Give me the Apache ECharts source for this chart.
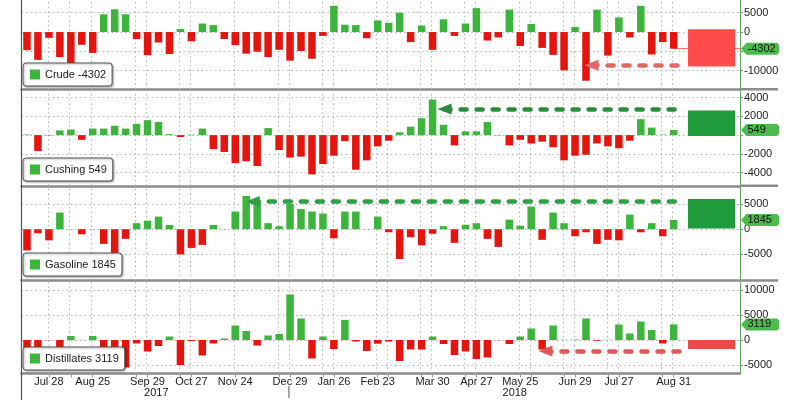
<!DOCTYPE html>
<html><head><meta charset="utf-8">
<script src="https://cdn.jsdelivr.net/npm/echarts@6/dist/echarts.min.js"></script>
<style>html,body{margin:0;padding:0;background:#fff}#c{width:800px;height:400px}</style>
</head><body><div id="c"></div>
<script>
// ---- data ----
const weeks = ['Jul 14','Jul 21','Jul 28','Aug 4','Aug 11','Aug 18','Aug 25','Sep 1','Sep 8','Sep 15','Sep 22','Sep 29',
  'Oct 6','Oct 13','Oct 20','Oct 27','Nov 3','Nov 10','Nov 17','Nov 24','Dec 1','Dec 8','Dec 15','Dec 22','Dec 29',
  'Jan 5','Jan 12','Jan 19','Jan 26','Feb 2','Feb 9','Feb 16','Feb 23','Mar 2','Mar 9','Mar 16','Mar 23','Mar 30',
  'Apr 6','Apr 13','Apr 20','Apr 27','May 4','May 11','May 18','May 25','Jun 1','Jun 8','Jun 15','Jun 22','Jun 29',
  'Jul 6','Jul 13','Jul 20','Jul 27','Aug 3','Aug 10','Aug 17','Aug 24','Aug 31'];

const crude = [-4700,-7200,-1500,-6500,-8400,-3300,-5400,4600,5900,4600,-1800,-6000,-2700,-5700,800,-2400,2200,1800,
  -1800,-3400,-5600,-5100,-6500,-4600,-7400,-4900,-6900,-1000,6800,1900,1800,-1600,3000,2400,5000,-2600,1700,-4600,
  3300,-1000,2200,6200,-2200,-1400,5800,-3600,2100,-4100,-5900,-9900,1300,-12600,5800,-6100,3800,-1400,6800,-5800,
  -2600,-4302];
const cushing = [60,-1700,-30,500,600,-500,700,700,1000,700,1200,1600,1400,100,-200,50,700,-1500,-1800,-3000,-2800,
  -3300,750,-1600,-2400,-2300,-4200,-3100,-2200,-650,-3700,-2700,-1200,-600,300,900,1800,3800,1100,-1100,400,400,
  1400,-30,-1100,-500,-900,-700,-1300,-2700,-2200,-2100,-900,-1200,-1400,-600,1700,800,50,549];
const gasoline = [-4200,-800,-2200,3300,50,-1000,30,-2900,-4800,-1900,1200,1700,2500,850,-5000,-3700,-3100,850,50,
  3500,6600,5700,1200,600,5000,4000,3500,3100,-1800,3500,3500,50,2500,-600,-5900,-1600,-3200,-900,600,-2700,900,1200,
  -1900,-3500,1900,700,4500,-2100,3300,1200,-1400,-600,-2900,-2100,-2200,2900,-600,1200,-1400,1845];
const distillates = [-2500,-2800,-50,-1800,800,30,800,-2500,-3500,-5500,-700,-2300,-1200,700,-5000,-200,-3100,-700,
  300,2900,1800,-1100,900,1200,9100,4300,-3700,700,-1800,4000,-300,-2200,-750,-300,-4200,-1900,-1900,700,-800,-3000,
  -2300,-3800,-3500,-50,-800,700,2300,-1900,2900,50,80,4300,-150,50,3100,1300,3700,2000,-700,3119];

const xTickLabels = ['Jul 28','Aug 25','Sep 29','Oct 27','Nov 24','Dec 29','Jan 26','Feb 23','Mar 30','Apr 27','May 25','Jun 29','Jul 27','Aug 31'];
const xGridWeeks = ['Jul 28','Aug 11','Aug 25','Sep 22','Sep 29','Oct 20','Oct 27','Nov 24','Dec 22','Dec 29','Jan 19','Jan 26',
  'Feb 23','Mar 2','Mar 23','Mar 30','Apr 20','Apr 27','May 25','Jun 1','Jun 22','Jun 29','Jul 20','Jul 27','Aug 24','Aug 31'];
const yearLabels = ['2017','2018'];
const yearPos = [11.8, 44.5];
const yearBreakPos = 23.9;

const crudeTicks = [5000,0,-5000,-10000];
const crudeTickLabels = [5000,0,-10000];
const cushingTicks = [4000,2000,0,-2000,-4000];
const cushingTickLabels = [4000,2000,-2000,-4000];
const gasolineTicks = [5000,0,-5000];
const gasolineTickLabels = [5000,0,-5000];
const distillatesTicks = [10000,5000,0,-5000];
const distillatesTickLabels = [10000,5000,0,-5000];

// highlight box [top, bottom] and dashed arrow level
const crudeBox = [700,-8900];
const cushingBox = [2640,-100];
const gasolineBox = [6000,150];
const distillatesBox = [0,-1800];
const crudeArrowLevel = -8600;
const cushingArrowLevel = 2800;
const gasolineArrowLevel = 5500;
const distillatesArrowLevel = -2200;
// week index (fractional) where arrow tips sit
const crudeArrowFrom = 51.5;
const cushingArrowFrom = 38.1;
const gasolineArrowFrom = 20.6;
const distillatesArrowFrom = 47.3;

// ---- chart ----
const FONT = 'Liberation Sans';
const GREEN = '#3db53d', RED = '#e4140f';
const X_MIN = -0.5, X_MAX = 65.05;
const panels = [
  {name:'Crude', values:crude, ticks:crudeTicks, labels:crudeTickLabels, box:crudeBox, boxColor:'#ff4b4b',
   arrowLevel:crudeArrowLevel, arrowFrom:crudeArrowFrom, arrowEnd:59.75, arrowColor:'#e06868', valueLine:true,
   min:-14800, max:8300, top:0, bottom:89.2, legendTop:63},
  {name:'Cushing', values:cushing, ticks:cushingTicks, labels:cushingTickLabels, box:cushingBox, boxColor:'#1f9b3c',
   arrowLevel:cushingArrowLevel, arrowFrom:cushingArrowFrom, arrowEnd:59.75, arrowColor:'#2b8c3e', valueLine:false,
   min:-5420, max:4770, top:90.5, bottom:185.8, legendTop:158},
  {name:'Gasoline', values:gasoline, ticks:gasolineTicks, labels:gasolineTickLabels, box:gasolineBox, boxColor:'#1f9b3c',
   arrowLevel:gasolineArrowLevel, arrowFrom:gasolineArrowFrom, arrowEnd:59.75, arrowColor:'#2f9e44', valueLine:false,
   min:-10160, max:8370, top:187, bottom:280.5, legendTop:253},
  {name:'Distillates', values:distillates, ticks:distillatesTicks, labels:distillatesTickLabels, box:distillatesBox, boxColor:'#f04848',
   arrowLevel:distillatesArrowLevel, arrowFrom:distillatesArrowFrom, arrowEnd:60.2, arrowColor:'#e0585c', valueLine:false,
   min:-6660, max:11600, top:282, bottom:373.3, legendTop:347}
];

const gridIdx = xGridWeeks.map(w => weeks.indexOf(w));
const labelIdx = xTickLabels.map(w => weeks.indexOf(w));
const last = {};
panels.forEach(p => { last[p.name] = p.values[p.values.length - 1]; });

const grids = [], xAxes = [], yAxes = [], series = [], legends = [];
panels.forEach((p, i) => {
  const isLast = i === panels.length - 1;
  grids.push({left:21.5, width:718.5, top:p.top, height:p.bottom - p.top, outerBoundsMode:'none'});
  xAxes.push({
    type:'value', gridIndex:i, min:X_MIN, max:X_MAX, position:'bottom',
    axisLine:{show:true, onZero:false, lineStyle:{color:'#8c8c8c', width:2.5}},
    axisTick:{show:isLast, customValues:gridIdx, length:4, lineStyle:{color:'#999'}},
    axisLabel:{show:isLast, customValues:labelIdx, formatter:v => weeks[Math.round(v)] || '',
      fontFamily:FONT, fontSize:11, color:'#222', margin:3},
    splitLine:{show:false}
  });
  yAxes.push({
    type:'value', gridIndex:i, position:'right', min:p.min, max:p.max,
    axisLine:{show:true, onZero:false, lineStyle:{color:'#62a862', width:1}},
    axisTick:{show:true, customValues:p.ticks, length:3, lineStyle:{color:'#62a862'}},
    axisLabel:{customValues:p.labels, formatter:v => String(v), fontFamily:FONT, fontSize:11, color:'#222', margin:4},
    splitLine:{show:false}
  });
  const lastV = last[p.name];
  const gl = p.ticks.map(t => ({yAxis:t})).concat(gridIdx.map(g => ({xAxis:g - 0.1})));
  if (p.valueLine) {
    gl.push([{coord:[p.values.length - 1, lastV], lineStyle:{color:p.boxColor, type:'solid', width:1, opacity:0.8}},
             {coord:[X_MAX, lastV]}]);
  }
  // gridlines (below bars)
  series.push({
    type:'line', xAxisIndex:i, yAxisIndex:i, data:[], silent:true,
    markLine:{z:1, silent:true, symbol:'none', animation:false, label:{show:false},
      lineStyle:{color:'#b5b5b5', type:[1.5,3], width:1}, data:gl}
  });
  // bars + highlight box + arrow
  series.push({
    type:'bar', name:p.name, xAxisIndex:i, yAxisIndex:i, z:2, barWidth:7.5, animation:false,
    data:p.values.map((v, k) => [k, v]),
    itemStyle:{color:params => params.value[1] >= 0 ? GREEN : RED},
    markArea:{z:3, silent:true, animation:false, itemStyle:{color:p.boxColor, opacity:1},
      data:[[{coord:[60.3, p.box[0]]}, {coord:[64.6, p.box[1]]}]]},
    markLine:{z:4, silent:true, animation:false, symbol:['triangle','none'], symbolSize:[11,14],
      symbolRotate:90, label:{show:false},
      lineStyle:{color:p.arrowColor, width:4.5, type:[6,10], cap:'round'},
      data:[[{coord:[p.arrowFrom, p.arrowLevel]}, {coord:[p.arrowEnd, p.arrowLevel]}]]}
  });
  legends.push({
    left:23, top:p.legendTop, orient:'horizontal', selectedMode:false,
    data:[{name:p.name, icon:'rect', itemStyle:{color:GREEN}}],
    itemWidth:10, itemHeight:10, itemGap:5,
    padding:[6,6,6,7], backgroundColor:'#fff', borderColor:'#555', borderWidth:1, borderRadius:3,
    shadowBlur:2, shadowColor:'rgba(0,0,0,0.35)', shadowOffsetX:1, shadowOffsetY:1,
    formatter:name => name + ' ' + last[name],
    textStyle:{fontFamily:FONT, fontSize:11, color:'#222'}
  });
});
// year labels axis
xAxes.push({
  type:'value', gridIndex:3, min:X_MIN, max:X_MAX, position:'bottom',
  axisLine:{show:false, onZero:false}, axisTick:{show:false}, splitLine:{show:false},
  axisLabel:{customValues:yearPos, formatter:v => yearLabels[yearPos.indexOf(v)] || '',
    fontFamily:FONT, fontSize:11, color:'#222', margin:14}
});

const chart = echarts.init(document.getElementById('c'), null, {renderer:'canvas'});
chart.setOption({
  animation:false, backgroundColor:'#fff',
  grid:grids, xAxis:xAxes, yAxis:yAxes, series:series, legend:legends
});

// value tags on the right axis + decorations
const gfx = [];
panels.forEach((p, i) => {
  const v = last[p.name];
  const y = chart.convertToPixel({yAxisIndex:i}, v);
  gfx.push({type:'polygon', z:100, shape:{points:[[741,y],[746.5,y-6],[777,y-6],[779,y-4],[779,y+4],[777,y+6],[746.5,y+6]]},
    style:{fill:'#4cba4c'}});
  gfx.push({type:'text', z:101, x:747.5, y:y, style:{text:String(v), fill:'#111', font:'11px ' + FONT, verticalAlign:'middle', align:'left'}});
  if (i < panels.length - 1) {
    gfx.push({type:'line', z:50, shape:{x1:740, y1:p.bottom, x2:778, y2:p.bottom}, style:{stroke:'#8c8c8c', lineWidth:2.5}});
  }
});
gfx.push({type:'line', z:50, shape:{x1:21.5, y1:0, x2:21.5, y2:400}, style:{stroke:'#555', lineWidth:1.2}});
const bx = chart.convertToPixel({xAxisIndex:3}, yearBreakPos);
gfx.push({type:'line', z:50, shape:{x1:bx, y1:386, x2:bx, y2:398}, style:{stroke:'#555', lineWidth:1}});
chart.setOption({graphic:gfx});
</script></body></html>
